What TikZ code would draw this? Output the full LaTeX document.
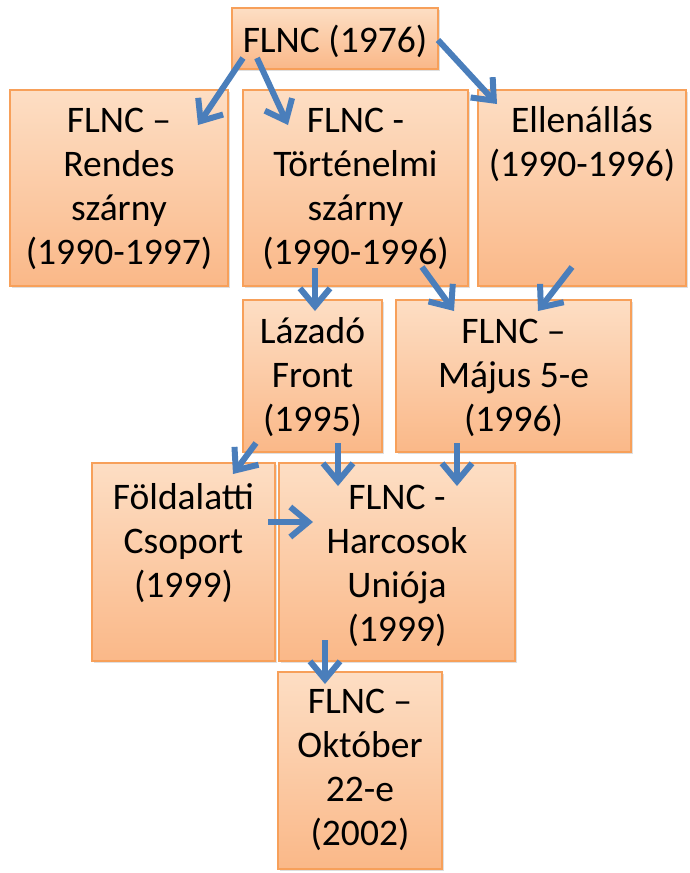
\documentclass[tikz,border=0pt]{standalone}
\usepackage{fontspec}
\setmainfont{Carlito}
\usetikzlibrary{arrows.meta,shadows}
\definecolor{boxedge}{RGB}{247,160,90}
\definecolor{boxtop}{RGB}{253,222,196}
\definecolor{boxbot}{RGB}{250,184,136}
\definecolor{arr}{RGB}{74,126,187}
\tikzset{
  orgbox/.style={draw=boxedge, line width=1.3pt, top color=boxtop, bottom color=boxbot,
    inner sep=0pt, font=\fontsize{37.5pt}{44pt}\selectfont,
    drop shadow={shadow xshift=2pt,shadow yshift=-2pt,opacity=0.25}},
  flow/.style={draw=arr, line width=6pt, -{Straight Barb[length=18pt,width=30pt]}}
}
% name, x1, y1, x2, y2, first baseline offset, text
\newcommand{\orgnode}[7]{%
  \node[orgbox] (#1) at ({(#2+#4)/2},{(#3+#5)/2})
    {\parbox[c][\dimexpr#5pt-#3pt\relax][t]{\dimexpr#4pt-#2pt\relax}{\centering\rule{0pt}{#6pt}#7\par}};}
\begin{document}
\begin{tikzpicture}[x=1pt,y=-1pt]
\useasboundingbox (0,0) rectangle (689,873);
\orgnode{n1}{232}{8}{438}{69}{44}{FLNC (1976)}
\orgnode{n2}{10}{90}{228}{286}{42}{FLNC –\\Rendes\\szárny\\(1990-1997)}
\orgnode{n3}{243}{90}{468}{286}{42}{FLNC -\\Történelmi\\szárny\\(1990-1996)}
\orgnode{n4}{478}{90}{686}{286}{42}{Ellenállás\\(1990-1996)}
\orgnode{n5}{243}{300}{382}{452}{43}{Lázadó\\Front\\(1995)}
\orgnode{n6}{396}{300}{631}{452}{43}{FLNC –\\Május 5-e\\(1996)}
\orgnode{n7}{92}{463}{275}{661}{46}{Földalatti\\Csoport\\(1999)}
\orgnode{n8}{279}{463}{515}{661}{46}{FLNC -\\Harcosok\\Uniója\\(1999)}
\orgnode{n9}{278}{672}{442}{869}{41}{FLNC –\\Október\\22-e\\(2002)}
% connector end points
\coordinate (a1s) at (243,58);  \coordinate (a1e) at (198,125);
\coordinate (a2s) at (257,58);  \coordinate (a2e) at (288,125);
\coordinate (a3s) at (438,40);  \coordinate (a3e) at (497,104);
\coordinate (a4s) at (315,268); \coordinate (a4e) at (315,311);
\coordinate (a5s) at (422,267); \coordinate (a5e) at (454,311);
\coordinate (a6s) at (572,267); \coordinate (a6e) at (538,311);
\coordinate (a7s) at (256,443); \coordinate (a7e) at (233,474);
\coordinate (a8s) at (338,443); \coordinate (a8e) at (338,486);
\coordinate (a9s) at (457,443); \coordinate (a9e) at (457,486);
\coordinate (a10s) at (268,522); \coordinate (a10e) at (313,522);
\coordinate (a11s) at (325,640); \coordinate (a11e) at (325,684);
\draw[flow] (a1s) -- (a1e);
\draw[flow] (a2s) -- (a2e);
\draw[flow] (a3s) -- (a3e);
\draw[flow] (a4s) -- (a4e);
\draw[flow] (a5s) -- (a5e);
\draw[flow] (a6s) -- (a6e);
\draw[flow] (a7s) -- (a7e);
\draw[flow] (a8s) -- (a8e);
\draw[flow] (a9s) -- (a9e);
\draw[flow] (a10s) -- (a10e);
\draw[flow] (a11s) -- (a11e);
\end{tikzpicture}
\end{document}
